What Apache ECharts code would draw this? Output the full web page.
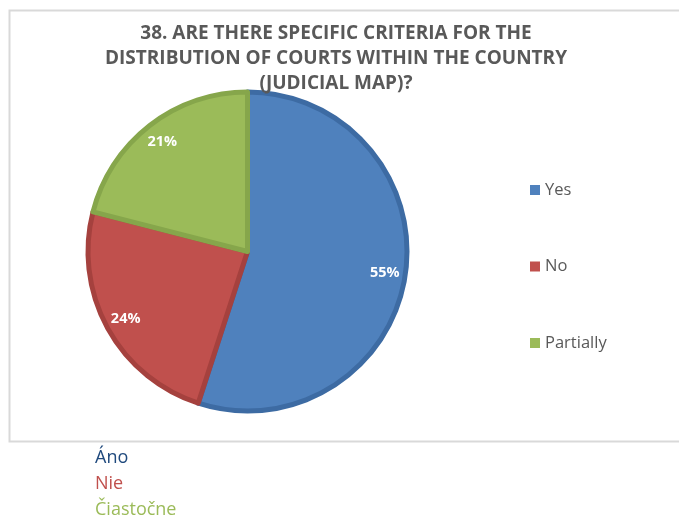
<!DOCTYPE html>
<html>
<head>
	<meta charset="utf-8" />
	<title>Judicial map</title>
	<style type="text/css">
		html,body{margin:0;padding:0;background:#fff;}
		#chart{width:679px;height:518px;}
	</style>
</head>
<body>
<div id="chart"></div>
<script src="https://cdn.jsdelivr.net/npm/echarts@6/dist/echarts.min.js"></script>
<script>
	// data
	var categories = ['Yes', 'No', 'Partially'];
	var values = [55, 24, 21];
	var localNames = ['Áno', 'Nie', 'Čiastočne'];

	var fills = ['#4F81BD', '#C0504D', '#9BBB59'];
	var borders = ['#3D6BA3', '#A5413E', '#86A64B'];
	var localColors = ['#1F497D', '#C0504D', '#9BBB59'];

	var chart = echarts.init(document.getElementById('chart'));

	var pieData = [], labelData = [];
	for (var i = 0; i < categories.length; i++) {
		pieData.push({
			name: categories[i],
			value: values[i],
			itemStyle: {color: fills[i], borderColor: borders[i]}
		});
		labelData.push({name: categories[i], value: values[i]});
	}

	// slovak names under the frame
	var texts = [];
	for (var j = 0; j < localNames.length; j++) {
		texts.push({
			type: 'text',
			left: 95,
			top: 449 + j * 26,
			style: {
				text: localNames[j],
				fill: localColors[j],
				font: '18px "Open Sans"'
			}
		});
	}

	chart.setOption({
		animation: false,
		title: {
			text: '38. ARE THERE SPECIFIC CRITERIA FOR THE\nDISTRIBUTION OF COURTS WITHIN THE COUNTRY\n(JUDICIAL MAP)?',
			left: 331,
			top: 16,
			textAlign: 'center',
			textStyle: {
				fontFamily: 'Open Sans',
				fontWeight: 'bold',
				fontSize: 19,
				lineHeight: 25,
				color: '#595959'
			}
		},
		legend: {
			orient: 'vertical',
			left: 525,
			top: 176,
			itemWidth: 10,
			itemHeight: 10,
			itemGap: 58.5,
			icon: 'rect',
			itemStyle: {borderWidth: 0},
			data: categories.map(function (c, k) {
				return {name: c, itemStyle: {color: fills[k], borderWidth: 0}};
			}),
			textStyle: {
				fontFamily: 'Open Sans',
				fontSize: 16.5,
				lineHeight: 18,
				color: '#595959'
			}
		},
		graphic: [{
			type: 'rect',
			shape: {x: 9.5, y: 10.5, width: 700, height: 431},
			style: {fill: 'none', stroke: '#D9D9D9', lineWidth: 2},
			silent: true
		}].concat(texts),
		series: [{
			name: 'pie',
			type: 'pie',
			center: [247.5, 251.5],
			radius: [0, 159.5],
			startAngle: 90,
			clockwise: true,
			label: {show: false},
			labelLine: {show: false},
			emphasis: {disabled: true},
			itemStyle: {borderWidth: 5},
			data: pieData
		}, {
			name: 'labels',
			type: 'pie',
			center: [247.5, 251.5],
			radius: [110, 162],
			startAngle: 90,
			clockwise: true,
			silent: true,
			itemStyle: {color: 'rgba(0,0,0,0)'},
			label: {
				show: true,
				position: 'inside',
				formatter: '{d}%',
				color: '#fff',
				fontFamily: 'Open Sans',
				fontWeight: 'bold',
				fontSize: 14.5
			},
			labelLine: {show: false},
			emphasis: {disabled: true},
			data: labelData
		}]
	});
</script>
</body>
</html>
